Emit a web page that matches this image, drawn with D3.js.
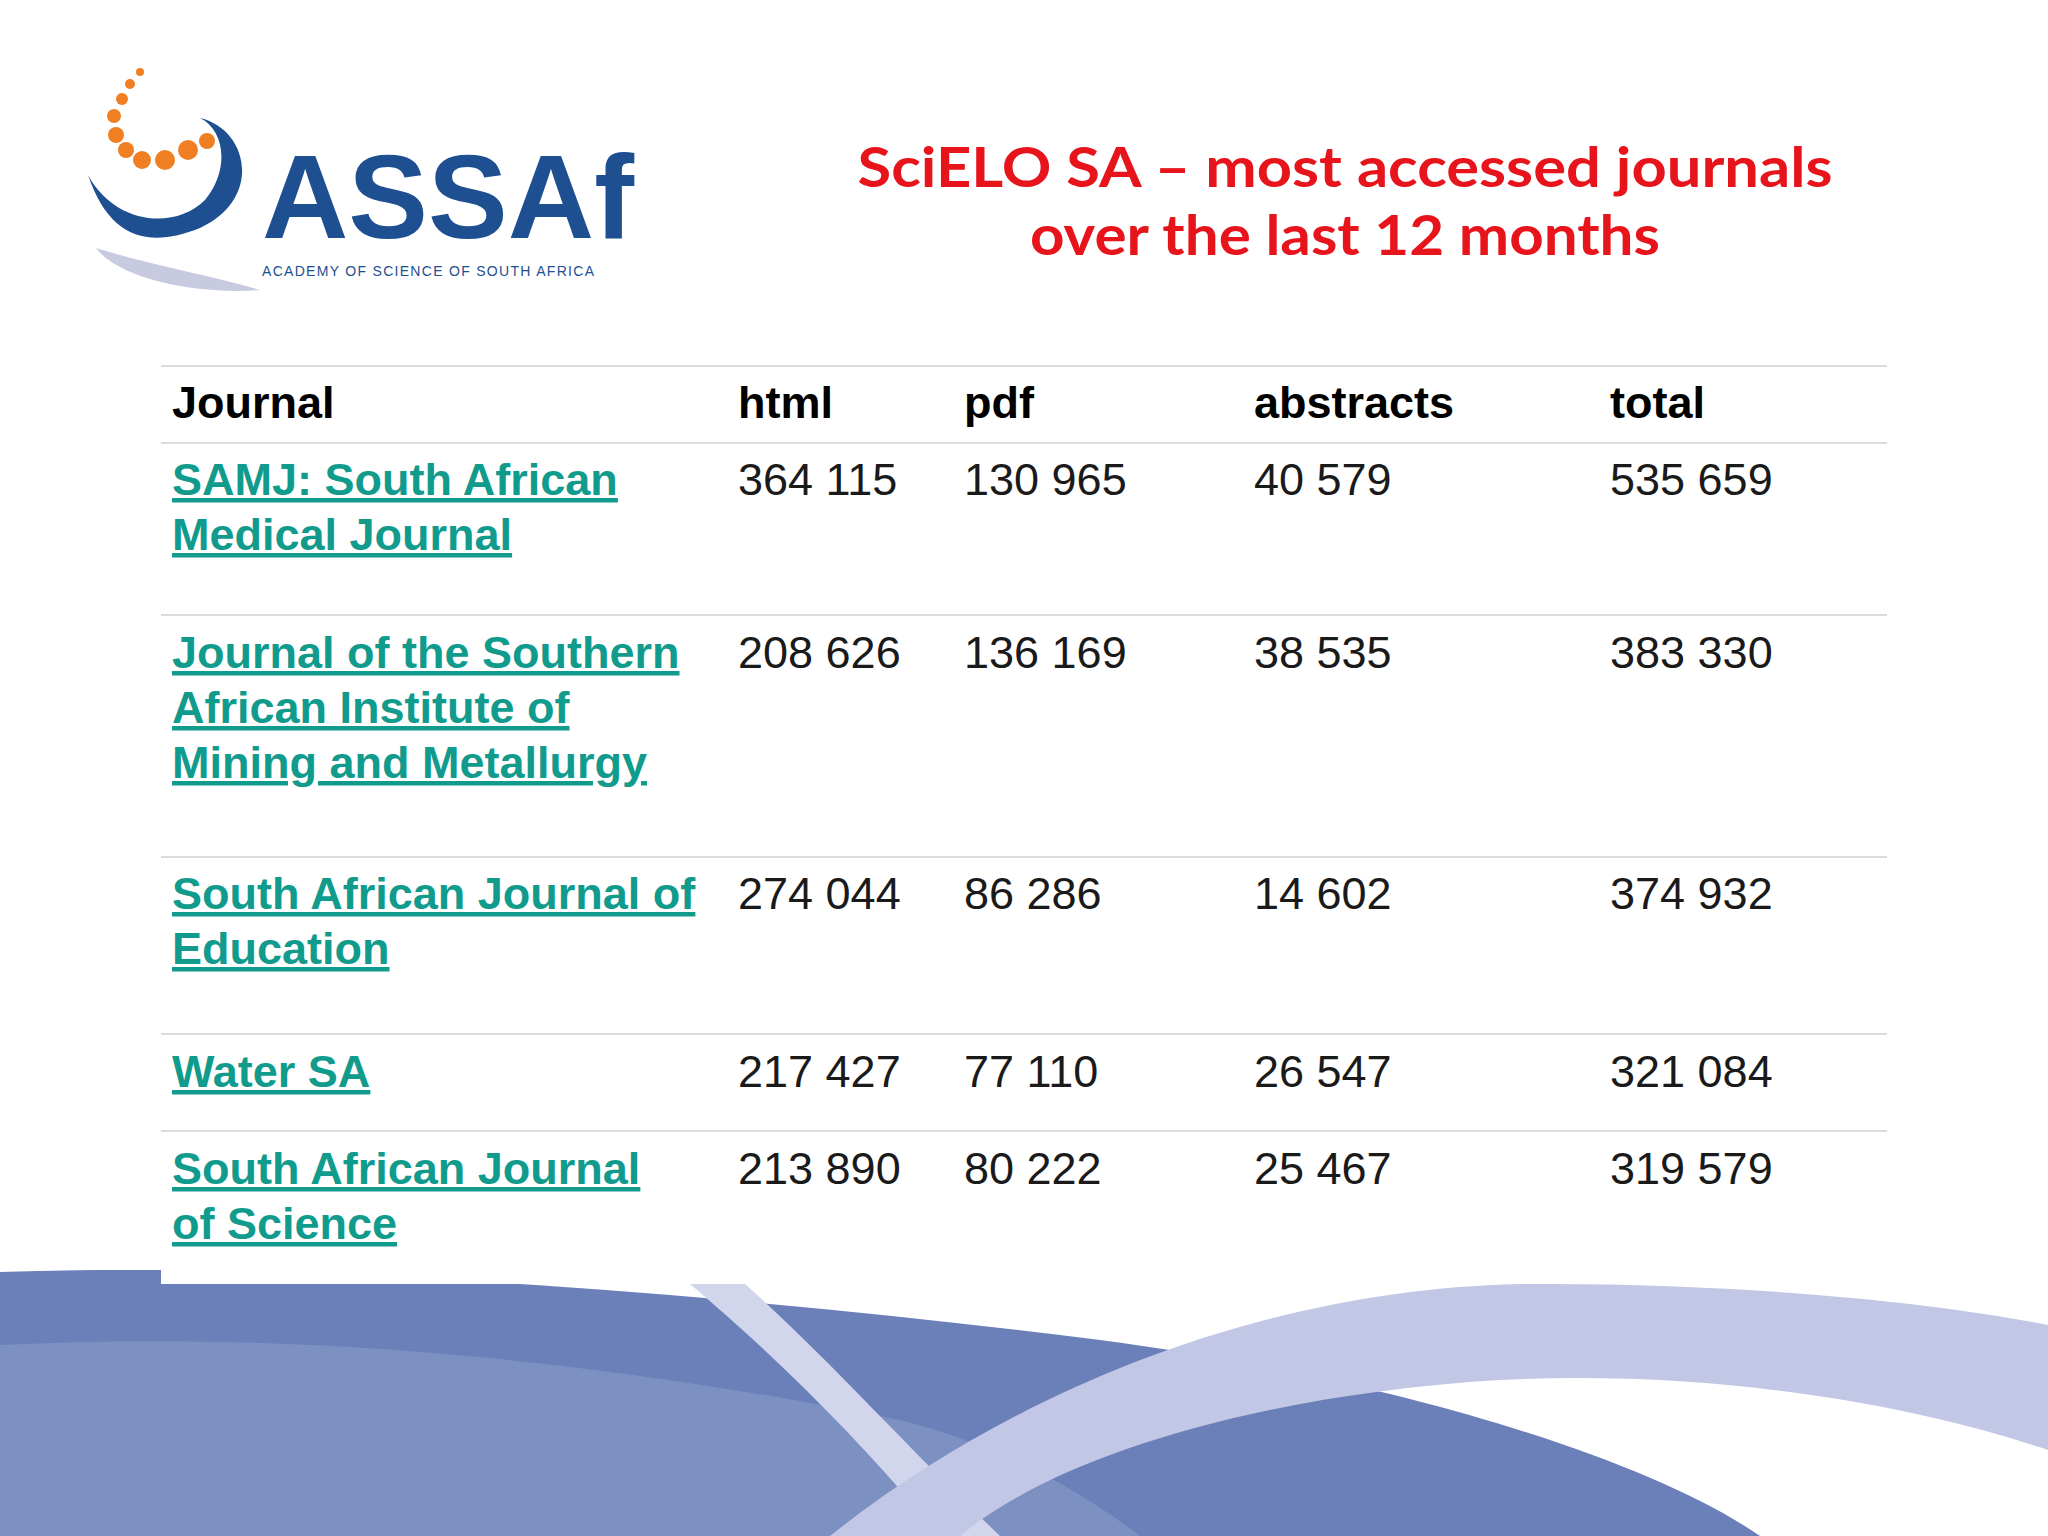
<!DOCTYPE html>
<html><head><meta charset="utf-8">
<script src="https://cdn.jsdelivr.net/npm/d3@7"></script>
<style>body{margin:0;background:#fff}</style></head>
<body><svg id="c" width="2048" height="1536"></svg>
<script>
const columns = ["Journal","html","pdf","abstracts","total"];
const journals = [
  ["SAMJ: South African","Medical Journal"],
  ["Journal of the Southern","African Institute of","Mining and Metallurgy"],
  ["South African Journal of","Education"],
  ["Water SA"],
  ["South African Journal","of Science"]
];
const html = ["364 115","208 626","274 044","217 427","213 890"];
const pdf = ["130 965","136 169","86 286","77 110","80 222"];
const abstracts = ["40 579","38 535","14 602","26 547","25 467"];
const total = ["535 659","383 330","374 932","321 084","319 579"];
const titleLines = ["SciELO SA – most accessed journals","over the last 12 months"];

const svg = d3.select("#c");
const g = svg.append("g");
g.append("path").attr("fill","#6b80b9")
 .attr("d","M0,1272 C300,1262 700,1290 1100,1340 C1400,1380 1650,1460 1760,1536 L0,1536 Z");
g.append("path").attr("fill","#7d90c2")
 .attr("d","M0,1345 C300,1330 600,1360 900,1420 C1000,1445 1080,1490 1140,1536 L0,1536 Z");
g.append("path").attr("fill","#d2d6ec")
 .attr("d","M690,1284 L745,1284 C830,1360 900,1440 1000,1536 L940,1536 C860,1440 780,1360 690,1284 Z");
g.append("path").attr("fill","#c1c7e5")
 .attr("d","M830,1536 C1000,1400 1250,1290 1520,1284 C1750,1282 1950,1305 2048,1325 L2048,1450 C1900,1400 1700,1370 1500,1380 C1250,1395 1050,1460 960,1536 Z");
svg.append("rect").attr("x",161).attr("y",366).attr("width",1726).attr("height",918).attr("fill","#fff");

const lg = svg.append("g");
lg.append("path").attr("fill","#1d4f91")
 .attr("d","M200,118 C250,130 262,200 200,228 C150,248 110,240 88,175 C115,225 175,230 205,200 C230,170 225,130 200,118 Z");
lg.append("path").attr("fill","#c8cbe0")
 .attr("d","M96,248 C150,265 210,275 260,290 C200,295 120,280 96,248 Z");
[[140,72,4],[130,84,5],[122,99,6],[114,116,7],[116,135,8],[126,150,8],[142,160,9],[165,160,10],[188,150,10],[207,141,8]].forEach(d=>{
  lg.append("circle").attr("cx",d[0]).attr("cy",d[1]).attr("r",d[2]).attr("fill","#f07e22");});
lg.append("text").attr("x",262).attr("y",238).attr("font-family","Liberation Sans").attr("font-weight","bold")
 .attr("font-size",118).attr("fill","#1d4f91").attr("textLength",372).attr("lengthAdjust","spacingAndGlyphs").text("ASSAf");
lg.append("text").attr("x",262).attr("y",276).attr("font-family","Liberation Sans").attr("font-size",14)
 .attr("fill","#1d4f91").attr("textLength",332).text("ACADEMY OF SCIENCE OF SOUTH AFRICA");

const tl = [975,630];
svg.append("g").selectAll("text").data(titleLines).join("text")
 .attr("x",1345).attr("y",(d,i)=>187+i*68).attr("text-anchor","middle")
 .attr("textLength",(d,i)=>tl[i]).attr("lengthAdjust","spacingAndGlyphs")
 .attr("font-family","Lato").attr("font-weight","bold").attr("font-size",56).attr("fill","#e8141c").text(d=>d);

const colX = d3.scaleOrdinal().domain(columns).range([172,738,964,1254,1610]);
const lines = [366,443,615,857,1034,1131];
svg.append("g").selectAll("line").data(lines).join("line")
 .attr("x1",161).attr("x2",1887).attr("y1",d=>d).attr("y2",d=>d).attr("stroke","#dcdcdc").attr("stroke-width",2);
const font = "Liberation Sans, Arial";
svg.append("g").selectAll("text").data(columns).join("text")
 .attr("x",d=>colX(d)).attr("y",418).attr("font-family",font).attr("font-weight","bold").attr("font-size",45)
 .attr("fill","#000").text(d=>d);
const rowY = [495,668,909,1087,1184];
journals.forEach((j,i)=>{
  j.forEach((t,k)=>{
    svg.append("text").attr("x",172).attr("y",rowY[i]+k*55).attr("font-family",font).attr("font-weight","bold")
     .attr("font-size",45).attr("fill","#119b8d").attr("text-decoration","underline").text(t);
  });
  [["html",html],["pdf",pdf],["abstracts",abstracts],["total",total]].forEach(([c,arr])=>{
    svg.append("text").attr("x",colX(c)).attr("y",rowY[i]).attr("font-family",font).attr("font-size",45)
     .attr("fill","#1a1a1a").text(arr[i]);
  });
});
</script></body></html>
